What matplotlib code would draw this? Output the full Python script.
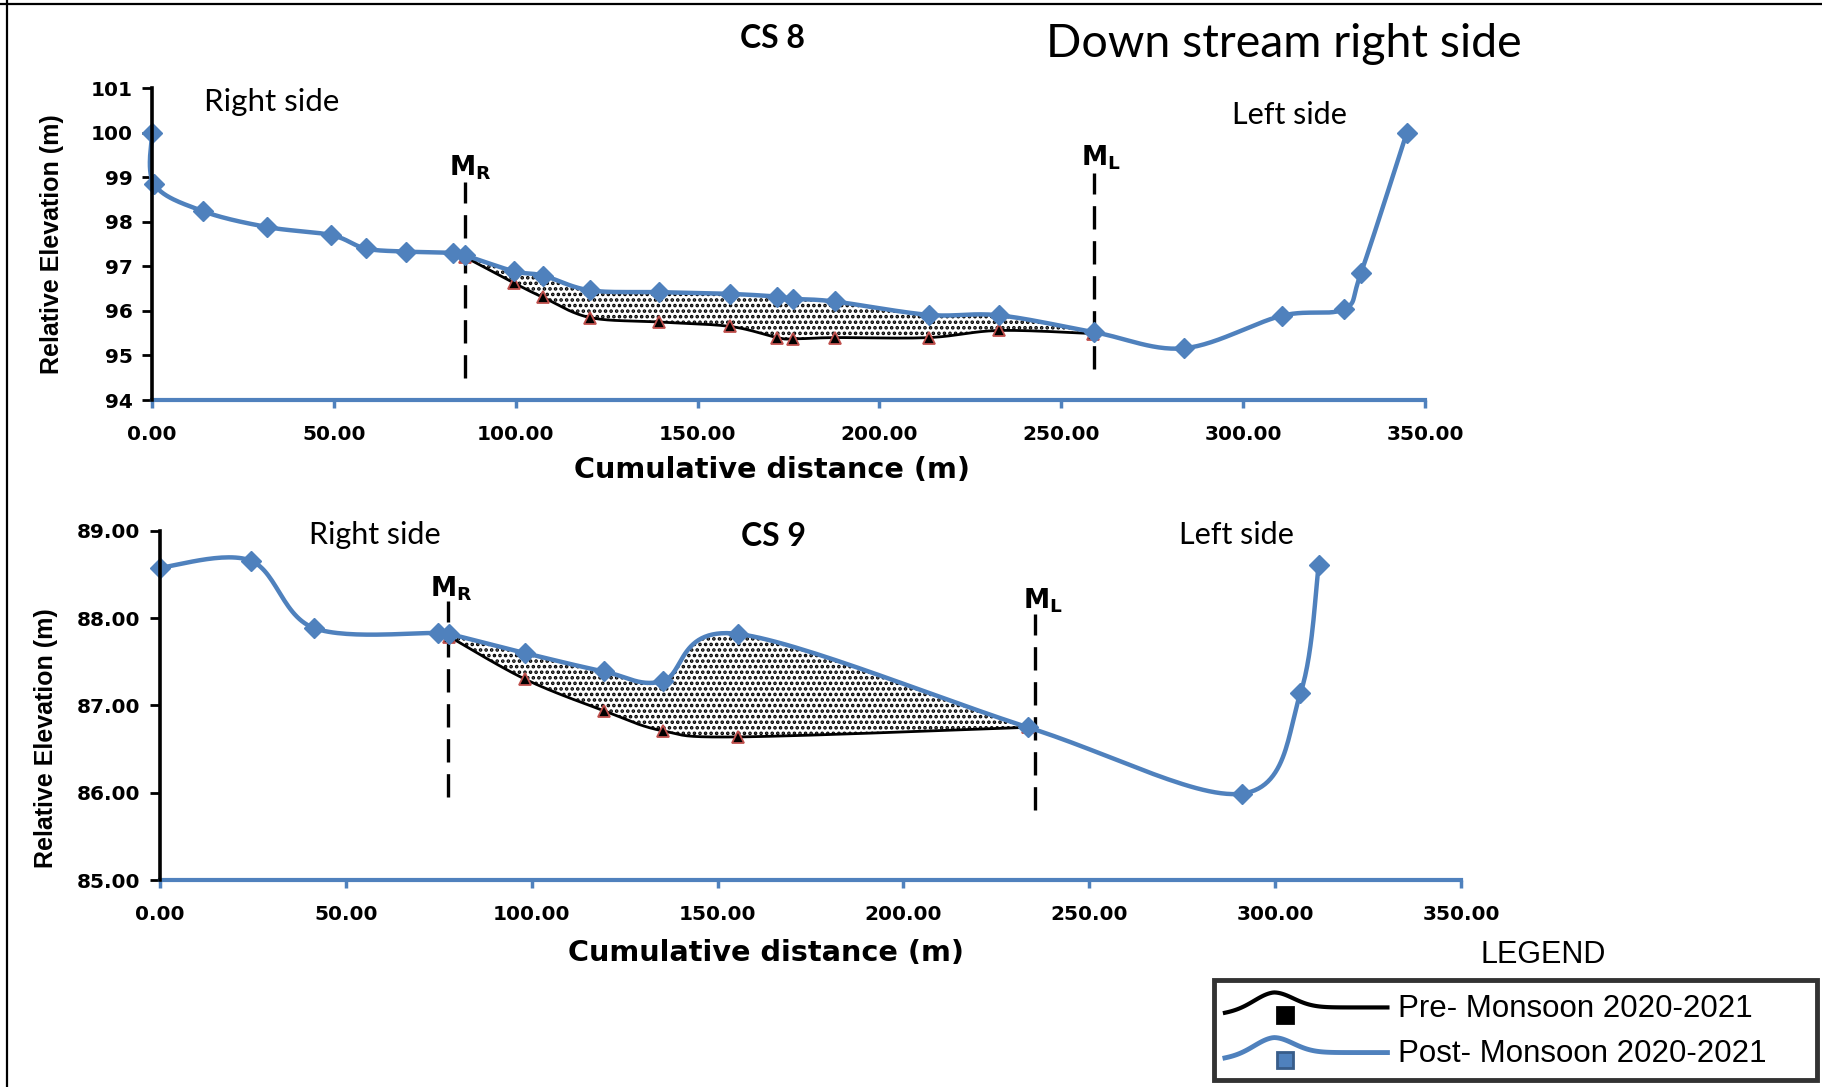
import numpy as np
import matplotlib
matplotlib.use("Agg")
import matplotlib.pyplot as plt
from matplotlib.lines import Line2D
from matplotlib.legend_handler import HandlerBase

# CS 8 (top panel)
cs8_post_x = [0, 0.6, 13.9, 31.7, 49.3, 58.7, 69.9, 82.8, 86.0, 99.4, 107.6, 120.4, 139.4, 159.0,
              171.9, 176.2, 187.7, 213.5, 232.9, 259.1, 283.7, 310.6, 327.7, 332.4, 345.0]
cs8_post_y = [100.0, 98.84, 98.24, 97.88, 97.70, 97.40, 97.33, 97.30, 97.25, 96.89, 96.79, 96.46, 96.42, 96.38,
              96.32, 96.27, 96.21, 95.91, 95.90, 95.52, 95.16, 95.89, 96.04, 96.85, 100.0]
cs8_pre_x = [86.0, 99.4, 107.6, 120.4, 139.4, 159.0, 171.9, 176.2, 187.7, 213.5, 232.9, 258.8]
cs8_pre_y = [97.21, 96.63, 96.30, 95.85, 95.75, 95.65, 95.40, 95.37, 95.40, 95.40, 95.56, 95.49]
cs8_mr, cs8_ml = 86.0, 258.9

# CS 9 (bottom panel)
cs9_post_x = [0, 24.4, 41.3, 74.9, 77.8, 98.3, 119.4, 135.2, 155.6, 233.5, 291.1, 306.8, 311.7]
cs9_post_y = [88.58, 88.66, 87.89, 87.83, 87.82, 87.60, 87.39, 87.28, 87.82, 86.75, 85.99, 87.14, 88.61]
cs9_pre_x = [77.8, 98.3, 119.4, 135.2, 155.6, 233.5]
cs9_pre_y = [87.79, 87.30, 86.94, 86.71, 86.64, 86.75]
cs9_mr, cs9_ml = 77.6, 235.4

BLUE = "#4F81BD"
RED = "#C0504D"
W, H = 1822, 1087

plt.rcParams["hatch.linewidth"] = 1.75


def smooth(x, y, sx, sy, n=30):
    # excel-like smoothed line: catmull-rom bezier done in screen-ish space
    pts = np.column_stack([np.array(x) * sx, np.array(y) * sy])
    P = np.vstack([pts[0], pts, pts[-1]])
    out = []
    t = np.linspace(0, 1, n)[:, None]
    for i in range(len(pts) - 1):
        p0, p1, p2, p3 = P[i], P[i + 1], P[i + 2], P[i + 3]
        c1 = p1 + (p2 - p0) / 6
        c2 = p2 - (p3 - p1) / 6
        seg = (1 - t) ** 3 * p1 + 3 * (1 - t) ** 2 * t * c1 + 3 * (1 - t) * t ** 2 * c2 + t ** 3 * p2
        out.append(seg if i == 0 else seg[1:])
    s = np.vstack(out)
    return s[:, 0] / sx, s[:, 1] / sy


def panel(ax, post_x, post_y, pre_x, pre_y, mr, ml, ylim, yfmt, dash_r, dash_l):
    ax.set_xlim(0, 350)
    ax.set_ylim(*ylim)
    bb = ax.get_position()
    sx = bb.width * W / 350
    sy = bb.height * H / (ylim[1] - ylim[0])
    px, py = smooth(post_x, post_y, sx, sy)
    qx, qy = smooth(pre_x, pre_y, sx, sy)

    m = (px >= pre_x[0] - 0.01) & (px <= ml + 0.5)
    ax.fill(np.concatenate([px[m], qx[::-1]]), np.concatenate([py[m], qy[::-1]]),
            facecolor="white", edgecolor="black", linewidth=0, hatch="...", zorder=1)

    ax.plot(qx, qy, color="black", lw=2.0, zorder=3)
    ax.plot(pre_x, pre_y, ls="none", marker="^", ms=8, mfc="black", mec=RED, mew=1.3, zorder=4)
    ax.plot(px, py, color=BLUE, lw=3.2, zorder=5, clip_on=False)
    ax.plot(post_x, post_y, ls="none", marker="D", ms=10.5, color=BLUE, zorder=6, clip_on=False)

    ax.plot([mr, mr], dash_r, color="black", lw=2.4, ls=(0, (7, 3.5)), zorder=2)
    ax.plot([ml, ml], dash_l, color="black", lw=2.4, ls=(0, (7, 3.5)), zorder=2)

    for s in ["top", "right"]:
        ax.spines[s].set_visible(False)
    ax.spines["left"].set_color("black")
    ax.spines["left"].set_linewidth(2.6)
    ax.spines["left"].set_zorder(7)
    ax.spines["bottom"].set_color(BLUE)
    ax.spines["bottom"].set_linewidth(3)
    ax.set_xticks(np.arange(0, 351, 50))
    ax.set_xticklabels(["%.2f" % v for v in np.arange(0, 351, 50)])
    yt = np.arange(ylim[0], ylim[1] + 0.5, 1)
    ax.set_yticks(yt)
    ax.set_yticklabels([yfmt % v for v in yt])
    ax.tick_params(axis="x", colors=BLUE, length=6, width=2.5, pad=12, labelcolor="black",
                   labelsize=14.5)
    ax.tick_params(axis="y", colors="black", length=7, width=2, pad=7, labelsize=14.5)
    for lab in ax.get_xticklabels() + ax.get_yticklabels():
        lab.set_fontweight("bold")
    ax.patch.set_alpha(0)


fig = plt.figure(figsize=(W / 100, H / 100), dpi=100)
ax1 = fig.add_axes([152 / W, 1 - 400 / H, 1273 / W, 312 / H])
ax2 = fig.add_axes([160 / W, 1 - 880 / H, 1301 / W, 349 / H])

panel(ax1, cs8_post_x, cs8_post_y, cs8_pre_x, cs8_pre_y, cs8_mr, cs8_ml, (94, 101), "%d",
      (94.5, 98.9), (94.7, 99.1))
panel(ax2, cs9_post_x, cs9_post_y, cs9_pre_x, cs9_pre_y, cs9_mr, cs9_ml, (85, 89), "%.2f",
      (85.95, 88.2), (85.8, 88.05))

lato = "Lato"
ax1.text(33, 100.69, "Right side", fontsize=22.5, family=lato, ha="center", va="center")
ax1.text(312.6, 100.39, "Left side", fontsize=22, family=lato, ha="center", va="center")
ax1.text(87.4, 99.2, r"$\mathbf{M_R}$", fontsize=19, ha="center", va="center")
ax1.text(261, 99.43, r"$\mathbf{M_L}$", fontsize=19, ha="center", va="center")

ax2.text(57.9, 88.95, "Right side", fontsize=22, family=lato, ha="center", va="center")
ax2.text(165, 88.94, "CS 9", fontsize=23, family=lato, fontweight="bold", ha="center", va="center")
ax2.text(289.7, 88.95, "Left side", fontsize=22, family=lato, ha="center", va="center")
ax2.text(78.3, 88.34, r"$\mathbf{M_R}$", fontsize=19, ha="center", va="center")
ax2.text(237.5, 88.2, r"$\mathbf{M_L}$", fontsize=19, ha="center", va="center")

fig.text(773 / W, 1 - 38 / H, "CS 8", fontsize=23, family=lato, fontweight="bold", ha="center", va="center")
fig.text(1284 / W, 1 - 44 / H, "Down stream right side", fontsize=33.5, family=lato, ha="center", va="center")

for yc, x, ax in [(244, 52, ax1), (738, 46, ax2)]:
    fig.text(x / W, 1 - yc / H, "Relative Elevation (m)", rotation=90, fontsize=18,
             family="Liberation Sans", fontweight="bold", ha="center", va="center")
fig.text(772 / W, 1 - 470 / H, "Cumulative distance (m)", fontsize=20.7, fontweight="bold",
         ha="center", va="center")
fig.text(766 / W, 1 - 953 / H, "Cumulative distance (m)", fontsize=20.7, fontweight="bold",
         ha="center", va="center")

# figure border (top and left only visible)
fig.add_artist(Line2D([0, 1], [1 - 4 / H, 1 - 4 / H], color="black", lw=1.6))
fig.add_artist(Line2D([7 / W, 7 / W], [0, 1], color="black", lw=1.6))


class WaveHandler(HandlerBase):
    def create_artists(self, legend, orig_handle, xdescent, ydescent, width, height, fontsize, trans):
        t = np.linspace(0, 1, 80)
        xs = -xdescent + t * width
        ys = -ydescent + height * (0.45 + 0.5 * np.exp(-((t - 0.3) / 0.17) ** 2) - 0.2 * (t < 0.3) * (0.3 - t) / 0.3)
        line = Line2D(xs, ys, color=orig_handle.get_color(), lw=orig_handle.get_linewidth(), transform=trans)
        mk = Line2D([-xdescent + 0.37 * width], [-ydescent + 0.2 * height], marker="s", ms=12,
                    mfc=orig_handle.get_markerfacecolor(), mec=orig_handle.get_markeredgecolor(),
                    mew=2, ls="none", transform=trans)
        return [line, mk]


h_pre = Line2D([], [], color="black", lw=3, marker="s", mfc="black", mec="black")
h_post = Line2D([], [], color=BLUE, lw=3.5, marker="s", mfc=BLUE, mec="#385D8A")
leg = fig.legend([h_pre, h_post], ["Pre- Monsoon 2020-2021", "Post- Monsoon 2020-2021"],
                 loc="upper left", bbox_to_anchor=(1214 / W, 1 - 980 / H, (1817 - 1214) / W, 0.0),
                 mode="expand", borderaxespad=0,
                 handler_map={Line2D: WaveHandler()}, handlelength=5.2, handleheight=1.1,
                 handletextpad=0.35, labelspacing=0.4, borderpad=0.35, fancybox=False,
                 prop={"family": "Liberation Sans", "size": 22.5}, frameon=True)
leg.get_frame().set_edgecolor("black")
leg.get_frame().set_linewidth(3.5)
fig.text(1543 / W, 1 - 955 / H, "LEGEND", fontsize=22, family="Liberation Sans", ha="center", va="center")

fig.savefig("out.png", dpi=100)
